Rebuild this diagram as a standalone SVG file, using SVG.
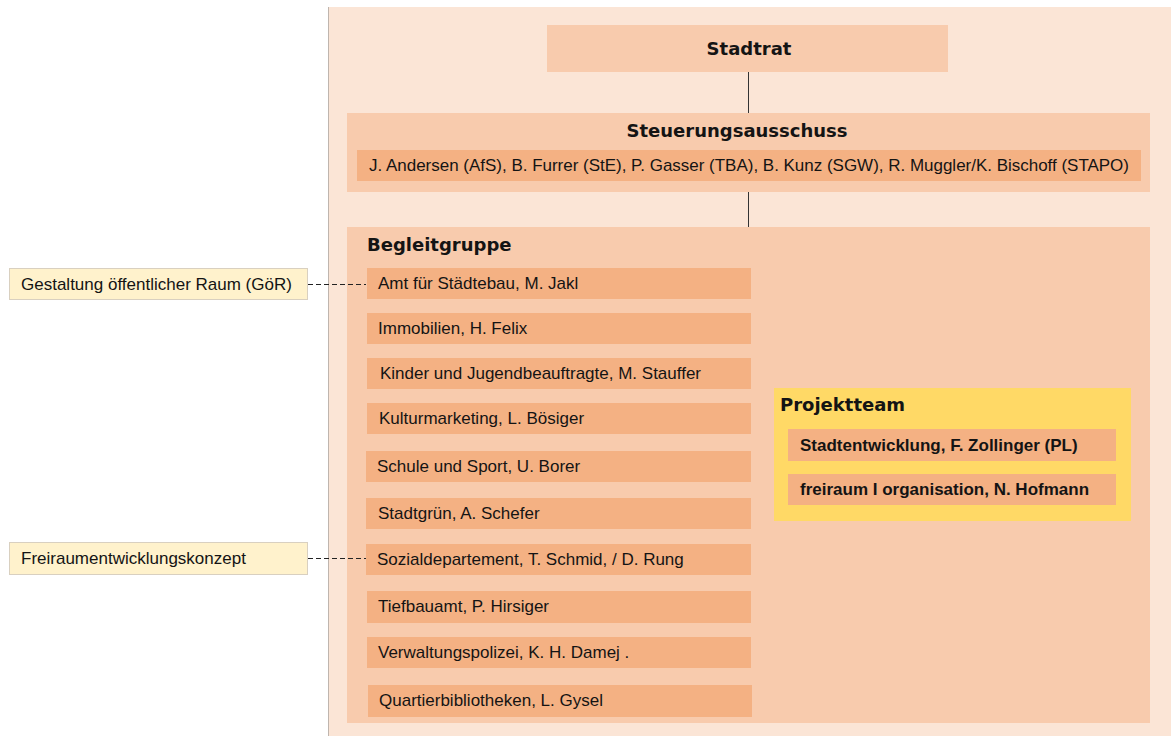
<svg xmlns="http://www.w3.org/2000/svg" width="1171" height="736" viewBox="0 0 1171 736">
<style>
text{font-family:"Liberation Sans",Arial,sans-serif;fill:#141414}
.t{font-size:17px}
.b{font-family:"DejaVu Sans","Liberation Sans",sans-serif;font-size:18px;font-weight:bold}
.bi{font-size:17px;font-weight:bold}
.item{fill:#F4B183}
.mid{fill:#F8CBAD}
.note{fill:#FFF2CC;stroke:#D9D0C0;stroke-width:1}
.conn{stroke:#333;stroke-width:1;fill:none}
.dash{stroke:#222;stroke-width:1.2;fill:none;stroke-dasharray:5 3}
</style>
<rect x="0" y="0" width="1171" height="736" fill="#fff"/>
<g id="panel">
<rect x="328" y="7" width="843" height="729" fill="#FBE5D6"/>
<line x1="328.5" y1="7" x2="328.5" y2="736" stroke="#BFB5AE" stroke-width="1"/>
</g>
<g id="stadtrat">
<rect class="mid" x="547" y="25" width="401" height="47"/>
<text class="b" x="749" y="54.5" text-anchor="middle">Stadtrat</text>
</g>
<g id="steuerungsausschuss">
<rect class="mid" x="347" y="113" width="803" height="79"/>
<text class="b" x="737" y="137" text-anchor="middle">Steuerungsausschuss</text>
<rect class="item" x="357" y="150" width="784" height="31"/>
<text class="t" x="369" y="171" textLength="760" lengthAdjust="spacing">J. Andersen (AfS), B. Furrer (StE), P. Gasser (TBA), B. Kunz (SGW), R. Muggler/K. Bischoff (STAPO)</text>
</g>
<g id="begleitgruppe">
<rect class="mid" x="347" y="227" width="803" height="496"/>
<text class="b" x="367" y="251">Begleitgruppe</text>
</g>
<g id="item-amt">
<rect class="item" x="367" y="268" width="384" height="31"/>
<text class="t" x="378" y="289">Amt für Städtebau, M. Jakl</text>
</g>
<g id="item-immobilien">
<rect class="item" x="367" y="313" width="384" height="31"/>
<text class="t" x="378" y="334">Immobilien, H. Felix</text>
</g>
<g id="item-kinder">
<rect class="item" x="367" y="358" width="384" height="31"/>
<text class="t" x="380" y="379">Kinder und Jugendbeauftragte, M. Stauffer</text>
</g>
<g id="item-kultur">
<rect class="item" x="367" y="403" width="384" height="31"/>
<text class="t" x="379" y="424">Kulturmarketing, L. Bösiger</text>
</g>
<g id="item-schule">
<rect class="item" x="366" y="451" width="385" height="31"/>
<text class="t" x="377" y="472">Schule und Sport, U. Borer</text>
</g>
<g id="item-stadtgruen">
<rect class="item" x="366" y="498" width="385" height="31"/>
<text class="t" x="378" y="519">Stadtgrün, A. Schefer</text>
</g>
<g id="item-sozial">
<rect class="item" x="366" y="544" width="385" height="31"/>
<text class="t" x="377" y="565">Sozialdepartement, T. Schmid, / D. Rung</text>
</g>
<g id="item-tiefbau">
<rect class="item" x="367" y="591" width="384" height="32"/>
<text class="t" x="378" y="612">Tiefbauamt, P. Hirsiger</text>
</g>
<g id="item-verwaltung">
<rect class="item" x="367" y="637" width="384" height="31"/>
<text class="t" x="378" y="658">Verwaltungspolizei, K. H. Damej .</text>
</g>
<g id="item-quartier">
<rect class="item" x="368" y="685" width="384" height="32"/>
<text class="t" x="379" y="706">Quartierbibliotheken, L. Gysel</text>
</g>
<g id="projektteam">
<rect x="774" y="388" width="357" height="133" fill="#FFD966"/>
<text class="b" x="780" y="411">Projektteam</text>
<rect class="item" x="788" y="429" width="328" height="32"/>
<text class="bi" x="800" y="451">Stadtentwicklung, F. Zollinger (PL)</text>
<rect class="item" x="788" y="474" width="328" height="31"/>
<text class="bi" x="800" y="495">freiraum I organisation, N. Hofmann</text>
</g>
<g id="note-goer">
<rect class="note" x="9.5" y="268.5" width="298" height="31"/>
<text class="t" x="21" y="290">Gestaltung öffentlicher Raum (GöR)</text>
</g>
<g id="note-frei">
<rect class="note" x="9.5" y="542.5" width="298" height="32"/>
<text class="t" x="21" y="564">Freiraumentwicklungskonzept</text>
</g>
<g id="connectors">
<line class="conn" x1="748.5" y1="72" x2="748.5" y2="113"/>
<line class="conn" x1="748.5" y1="192" x2="748.5" y2="227"/>
<line class="dash" x1="308" y1="284.5" x2="366" y2="284.5"/>
<line class="dash" x1="308" y1="558.5" x2="366" y2="558.5"/>
</g>
</svg>
